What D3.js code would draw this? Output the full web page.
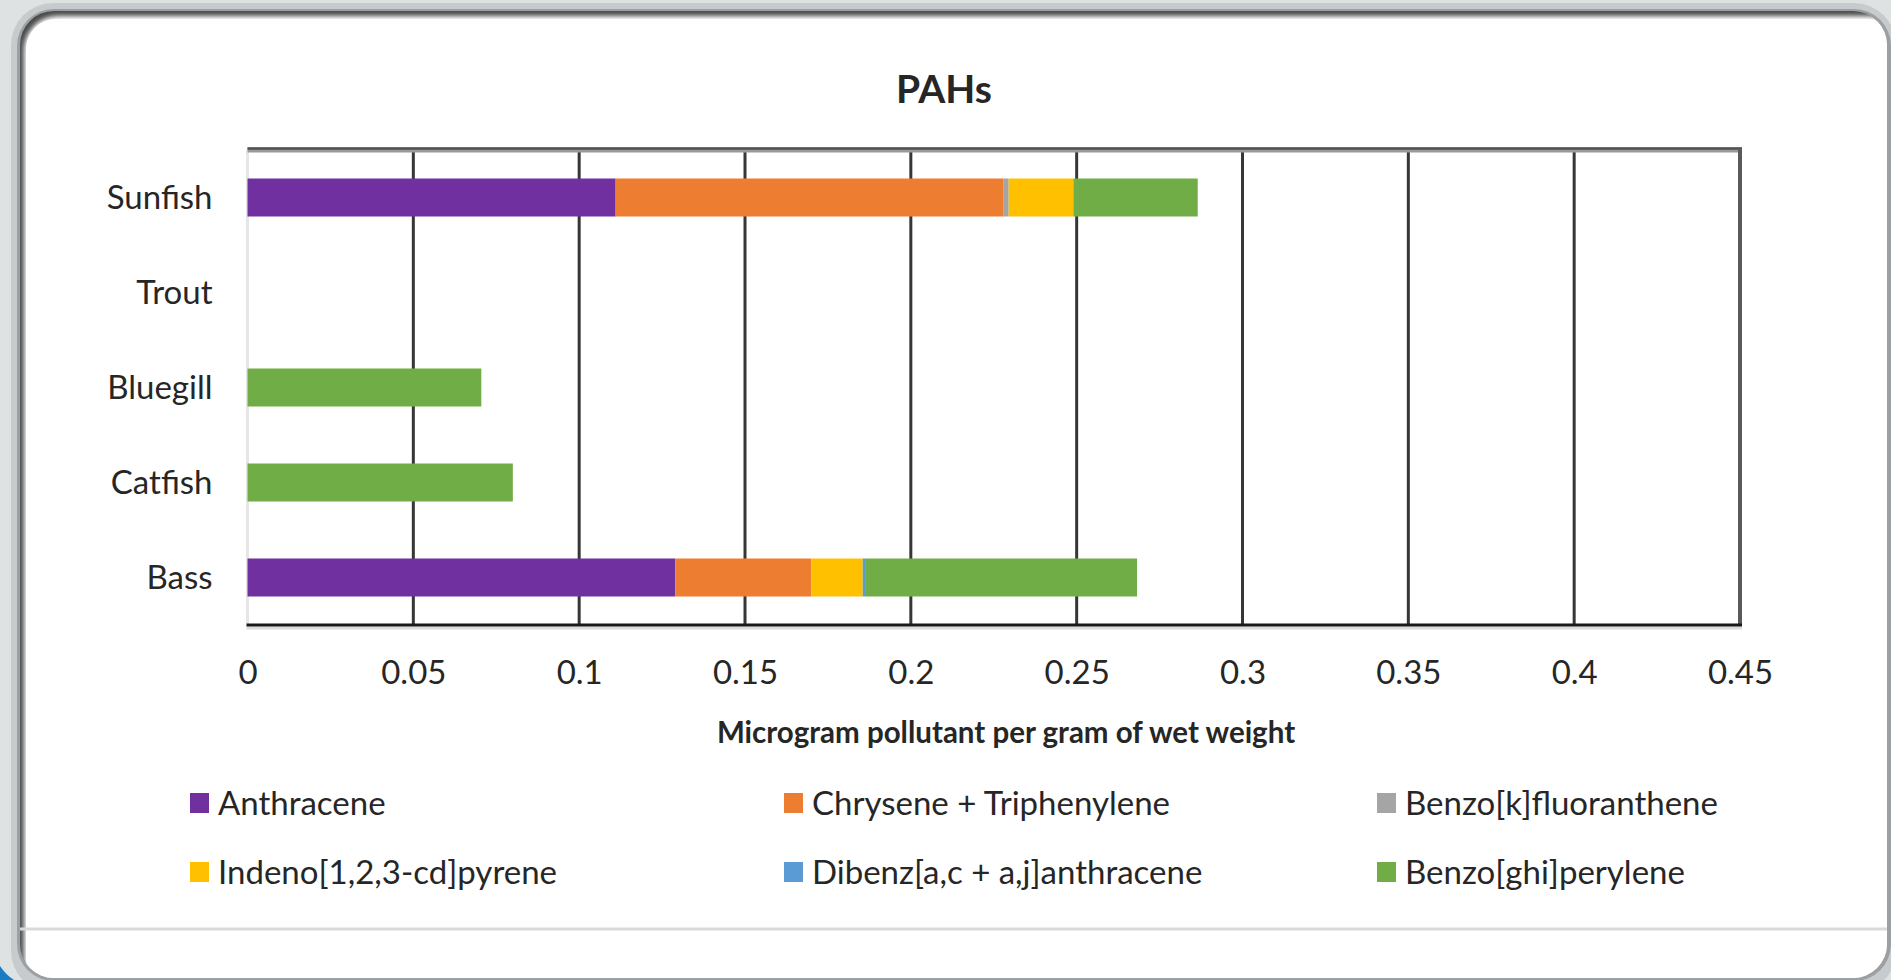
<!DOCTYPE html>
<html><head><meta charset="utf-8">
<script src="https://cdn.jsdelivr.net/npm/d3@7"></script>
<style>
html,body{margin:0;padding:0;background:#dfe2e3;}
svg{display:block;}
text{font-family:Lato,"Open Sans",sans-serif;fill:#262626;}
</style></head>
<body><svg id="c" width="1891" height="980"></svg>
<script>
const categories = ["Sunfish","Trout","Bluegill","Catfish","Bass"];
const seriesNames = ["Anthracene","Chrysene + Triphenylene","Benzo[k]fluoranthene","Indeno[1,2,3-cd]pyrene","Dibenz[a,c + a,j]anthracene","Benzo[ghi]perylene"];
const seriesColors = ["#7030a0","#ed7d31","#a5a5a5","#ffc000","#5b9bd5","#70ad47"];
// values per series, in the order of categories
const anthracene   = [0.111, 0, 0, 0, 0.129];
const chrysene     = [0.117, 0, 0, 0, 0.041];
const benzoK       = [0.0015, 0, 0, 0, 0];
const indeno       = [0.0195, 0, 0, 0, 0.0155];
const dibenz       = [0, 0, 0, 0, 0.0007];
const benzoGhi     = [0.0375, 0, 0.0705, 0.08, 0.082];
const tickValues = [0,0.05,0.1,0.15,0.2,0.25,0.3,0.35,0.4,0.45];
const tickLabels = ["0","0.05","0.1","0.15","0.2","0.25","0.3","0.35","0.4","0.45"];
const titleText = "PAHs";
const xTitle = "Microgram pollutant per gram of wet weight";

const seriesValues = [anthracene, chrysene, benzoK, indeno, dibenz, benzoGhi];
const rows = categories.map((c,i)=>{const o={cat:c}; seriesNames.forEach((s,j)=>o[s]=seriesValues[j][i]); return o;});

const svg = d3.select("#c");
const W=1891,H=980;

// panel frame
const defs = svg.append("defs");
const f = defs.append("filter").attr("id","blur").attr("x","-5%").attr("y","-5%").attr("width","110%").attr("height","110%");
f.append("feGaussianBlur").attr("stdDeviation",2.5);
defs.append("clipPath").attr("id","panelClip").append("rect").attr("x",20).attr("y",11).attr("width",1867).attr("height",967).attr("rx",34);

svg.append("rect").attr("x",0).attr("y",0).attr("width",W).attr("height",H).attr("fill","#dfe2e3");
svg.append("rect").attr("x",11).attr("y",3).attr("width",1885).attr("height",990).attr("rx",42).attr("fill","#c7cbcd");
svg.append("rect").attr("x",17).attr("y",9).attr("width",1874).attr("height",972).attr("rx",37).attr("fill","#9ca0a2");
const pg = svg.append("g").attr("clip-path","url(#panelClip)");
pg.append("rect").attr("x",20).attr("y",11).attr("width",1867).attr("height",967).attr("fill","#4a4a4a");
pg.append("rect").attr("x",24).attr("y",16).attr("width",1880).attr("height",980).attr("rx",34).attr("fill","#ffffff").attr("filter","url(#blur)");
pg.append("rect").attr("x",26).attr("y",19).attr("width",1870).attr("height",970).attr("rx",30).attr("fill","#ffffff");
pg.append("line").attr("x1",20).attr("x2",1891).attr("y1",929).attr("y2",929).attr("stroke","#d9d9d9").attr("stroke-width",3);
svg.append("path").attr("d","M0,966 Q6,975 14,980 L0,980 Z").attr("fill","#1a7cc4");

// chart
const m = {left:247.5, right:1740, top:150, bottom:625};
const x = d3.scaleLinear().domain([0,0.45]).range([m.left,m.right]);
const y = d3.scaleBand().domain(categories).range([m.top,m.bottom]).paddingInner(0.6).paddingOuter(0.3);

const stack = d3.stack().keys(seriesNames)(rows);
const color = d3.scaleOrdinal().domain(seriesNames).range(seriesColors);

// gridlines
svg.append("g").selectAll("line").data(tickValues.slice(1)).join("line")
  .attr("x1",d=>x(d)).attr("x2",d=>x(d)).attr("y1",m.top).attr("y2",m.bottom)
  .attr("stroke","#363636").attr("stroke-width",3);
// left line
svg.append("line").attr("x1",x(0)).attr("x2",x(0)).attr("y1",m.top).attr("y2",m.bottom).attr("stroke","#e6e6e6").attr("stroke-width",3);
// top border
svg.append("line").attr("x1",x(0)).attr("x2",x(0.45)+2).attr("y1",m.top).attr("y2",m.top).attr("stroke","#9a9a9a").attr("stroke-width",5);
svg.append("line").attr("x1",x(0)).attr("x2",x(0.45)+2).attr("y1",m.top-1.5).attr("y2",m.top-1.5).attr("stroke","#505050").attr("stroke-width",2.5);
svg.append("line").attr("x1",x(0.45)).attr("x2",x(0.45)).attr("y1",m.top).attr("y2",m.bottom).attr("stroke","#5a5a5a").attr("stroke-width",4);

// bars
svg.append("g").selectAll("g").data(stack).join("g").attr("fill",d=>color(d.key))
  .selectAll("rect").data(d=>d.map(v=>({v,cat:v.data.cat}))).join("rect")
  .attr("x",d=>x(d.v[0])).attr("width",d=>Math.max(0,x(d.v[1])-x(d.v[0])))
  .attr("y",d=>y(d.cat)).attr("height",y.bandwidth());

// bottom axis
svg.append("line").attr("x1",x(0)-1).attr("x2",x(0.45)+2).attr("y1",m.bottom+3).attr("y2",m.bottom+3).attr("stroke","#dddddd").attr("stroke-width",3);
svg.append("line").attr("x1",x(0)-1).attr("x2",x(0.45)+2).attr("y1",m.bottom).attr("y2",m.bottom).attr("stroke","#1a1a1a").attr("stroke-width",3);

const xAxis = d3.axisBottom(x).tickValues(tickValues).tickFormat((d,i)=>tickLabels[i]).tickSize(0).tickPadding(0);
const gx = svg.append("g").attr("transform",`translate(0,${m.bottom})`).call(xAxis);
gx.select(".domain").remove();
gx.selectAll("text").attr("y",59).attr("dy",0).style("font-size","33px").style("font-family","Lato").attr("fill","#262626");

const yAxis = d3.axisLeft(y).tickSize(0).tickPadding(0);
const gy = svg.append("g").attr("transform",`translate(${m.left-35},0)`).call(yAxis);
gy.select(".domain").remove();
gy.selectAll("text").attr("dy","0.36em").style("font-size","33px").style("font-family","Lato").attr("fill","#262626");

// title
svg.append("text").attr("x",944).attr("y",103).attr("text-anchor","middle").style("font-size","39px").style("font-weight","bold").text(titleText);
svg.append("text").attr("x",1006).attr("y",743).attr("text-anchor","middle").style("font-size","29.5px").style("font-weight","bold").text(xTitle);

// legend
const legPos = [[190,803],[784,803],[1377,803],[190,872],[784,872],[1377,872]];
const lg = svg.append("g").selectAll("g").data(seriesNames).join("g").attr("transform",(d,i)=>`translate(${legPos[i][0]},${legPos[i][1]})`);
lg.append("rect").attr("x",0).attr("y",-10).attr("width",19).attr("height",20).attr("fill",d=>color(d));
lg.append("text").attr("x",28).attr("y",0).attr("dy","0.36em").style("font-size","33px").text(d=>d);
</script>
</body></html>
